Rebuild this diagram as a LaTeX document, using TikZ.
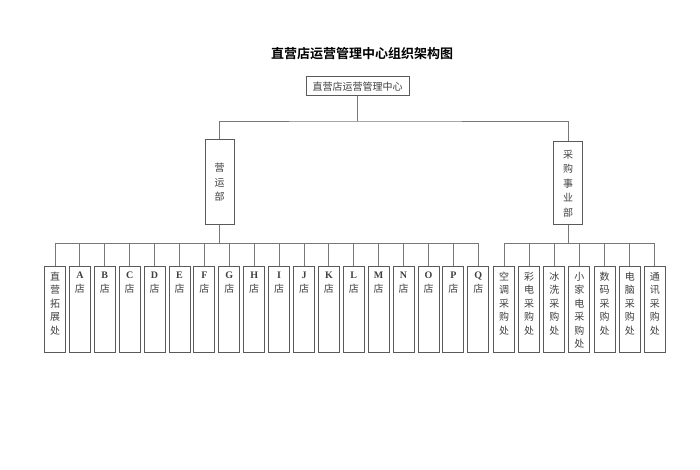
\documentclass[tikz,border=0pt]{standalone}
\usepackage{fontspec}
\setmainfont{Liberation Serif}
\newfontfamily\cjk{Noto Sans CJK SC}
\newfontfamily\cjkb{Noto Sans CJK SC Bold}
\definecolor{boxc}{HTML}{5A5A5A}
\definecolor{linec}{HTML}{787878}
\definecolor{txtc}{HTML}{404040}
\newcommand{\vtxt}[1]{\parbox[c][85bp][t]{21bp}{\centering\fontsize{10bp}{13.5bp}\selectfont\vspace{5bp}#1}}
\newcommand{\vmid}[2]{\parbox[c][#1][c]{29bp}{\centering\fontsize{10bp}{14.5bp}\selectfont #2}}
\begin{document}
\begin{tikzpicture}[x=1bp,y=-1bp,
  boxs/.style={draw=boxc,line width=1bp,inner sep=0pt,text=txtc,fill=white},
  conn/.style={draw=linec,line width=0.9bp}]
\useasboundingbox (0,0) rectangle (700,470);
\node[text=black] (title) at (362,54) {\cjkb\fontsize{13bp}{13bp}\selectfont 直营店运营管理中心组织架构图};
\node[boxs,minimum width=103bp,minimum height=19bp] (top) at (357.5,86.5) {\cjk\fontsize{10bp}{10bp}\selectfont 直营店运营管理中心};
\node[boxs] (ops) at (219.5,182.5) {\vmid{85bp}{\cjk 营\\运\\部}};
\node[boxs] (pur) at (568,183.5) {\vmid{83bp}{\cjk 采\\购\\事\\业\\部}};
\coordinate (tb) at (357.5,121);
\draw[conn] (top) -- (tb);
\draw[conn] (ops.north) |- (tb) -| (pur.north);
% left group
\node[boxs] (s0) at (55,309.5) {\vtxt{\cjk 直\\营\\拓\\展\\处}};
\foreach \L [count=\i] in {A,B,C,D,E,F,G,H,I,J,K,L,M,N,O,P,Q}{
  \node[boxs] (s\i) at ({55+24.9*\i},309.5) {\vtxt{\textbf{\L}\\{\cjk 店}}};
}
\coordinate (lb) at (219.5,243);
\draw[conn] (ops.south) -- (lb);
\draw[conn] (s0.north) |- (lb);
\draw[conn] (s17.north) |- (lb);
\foreach \i in {1,...,16}{\draw[conn] (s\i.north) -- (s\i.north |- lb);}
% right group
\foreach \t [count=\i from 0] in {{空\\调\\采\\购\\处},{彩\\电\\采\\购\\处},{冰\\洗\\采\\购\\处},{小\\家\\电\\采\\购\\处},{数\\码\\采\\购\\处},{电\\脑\\采\\购\\处},{通\\讯\\采\\购\\处}}{
  \node[boxs] (p\i) at ({504+25.15*\i},309.5) {\vtxt{\cjk \t}};
}
\coordinate (rb) at (568,243);
\draw[conn] (pur.south) -- (rb);
\draw[conn] (p0.north) |- (rb);
\draw[conn] (p6.north) |- (rb);
\foreach \i in {1,...,5}{\draw[conn] (p\i.north) -- (p\i.north |- rb);}
\end{tikzpicture}
\end{document}
